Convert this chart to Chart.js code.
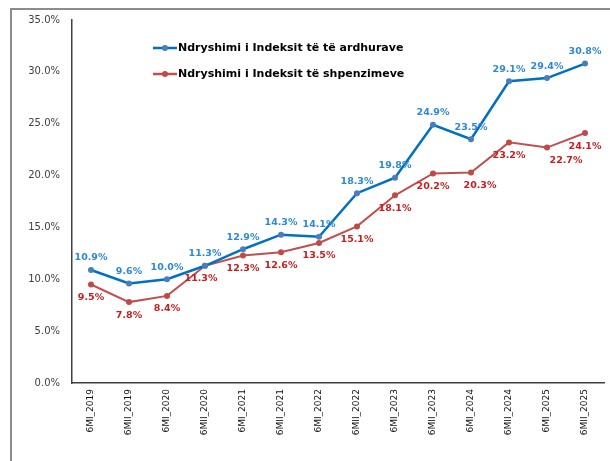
<!DOCTYPE html>
<html>
<head>
<meta charset="utf-8">
<script src="https://cdn.jsdelivr.net/npm/chart.js@4.4.1/dist/chart.umd.min.js"></script>
<style>
  html, body { margin: 0; padding: 0; background: #fff; overflow: hidden; }
  #frame { position: absolute; left: 10px; top: 8px; width: 640px; height: 480px;
           border-top: 2px solid #8c8c8c; border-left: 2px solid #8c8c8c; }
  #wrap { position: absolute; left: 0; top: 0; width: 610px; height: 461px; }
</style>
</head>
<body>
<div id="frame"></div>
<div id="wrap"><canvas id="myChart" width="610" height="461"></canvas></div>
<script>
let labels = ['6MI_2019', '6MII_2019', '6MI_2020', '6MII_2020', '6MI_2021', '6MII_2021', '6MI_2022',
              '6MII_2022', '6MI_2023', '6MII_2023', '6MI_2024', '6MII_2024', '6MI_2025', '6MII_2025'];
let incomeIdx = [10.9, 9.6, 10.0, 11.3, 12.9, 14.3, 14.1, 18.3, 19.8, 24.9, 23.5, 29.1, 29.4, 30.8];
let spendIdx = [9.5, 7.8, 8.4, 11.3, 12.3, 12.6, 13.5, 15.1, 18.1, 20.2, 20.3, 23.2, 22.7, 24.1];
let seriesNames = ['Ndryshimi i Indeksit të të ardhurave', 'Ndryshimi i Indeksit të shpenzimeve'];

// a few labels sit a little sideways in the original
let redShift = { 3: -4, 10: 9, 12: 19 };

let pointLabels = {
    id: 'pointLabels',
    afterDatasetsDraw(chart) {
        let ctx = chart.ctx;
        ctx.save();
        ctx.font = 'bold 9.5px "DejaVu Sans"';
        ctx.textAlign = 'center';
        ctx.textBaseline = 'middle';
        chart.data.datasets.forEach((ds, di) => {
            let meta = chart.getDatasetMeta(di);
            meta.data.forEach((pt, i) => {
                let txt = ds.data[i].toFixed(1) + '%';
                if (di === 0) {
                    ctx.fillStyle = '#2F88D6';
                    ctx.fillText(txt, pt.x, pt.y - 12);
                } else {
                    ctx.fillStyle = '#C51F1F';
                    ctx.fillText(txt, pt.x + (redShift[i] || 0), pt.y + 13);
                }
            });
        });
        ctx.restore();
    }
};

let innerLegend = {
    id: 'innerLegend',
    afterDraw(chart) {
        let ctx = chart.ctx;
        ctx.save();
        chart.data.datasets.forEach((ds, di) => {
            let y = 48 + di * 26;
            ctx.strokeStyle = ds.borderColor;
            ctx.lineWidth = 2.5;
            ctx.beginPath();
            ctx.moveTo(153, y);
            ctx.lineTo(177, y);
            ctx.stroke();
            ctx.fillStyle = ds.pointBackgroundColor;
            ctx.beginPath();
            ctx.arc(165, y, 3, 0, Math.PI * 2);
            ctx.fill();
            ctx.fillStyle = '#000';
            ctx.font = 'bold 11px "DejaVu Sans"';
            ctx.textBaseline = 'middle';
            ctx.textAlign = 'left';
            ctx.fillText(ds.label, 178, y);
        });
        ctx.restore();
    }
};

let chart = new Chart(document.getElementById('myChart').getContext('2d'), {
    type: 'line',
    data: {
        labels: labels,
        datasets: [{
            label: seriesNames[0],
            data: incomeIdx,
            borderColor: '#0070C0',
            borderWidth: 2.5,
            pointBackgroundColor: '#4A7EBB',
            pointBorderWidth: 0,
            pointRadius: 3,
            tension: 0
        }, {
            label: seriesNames[1],
            data: spendIdx,
            borderColor: '#C0504D',
            borderWidth: 2,
            pointBackgroundColor: '#BE4B48',
            pointBorderWidth: 0,
            pointRadius: 3,
            tension: 0
        }]
    },
    options: {
        responsive: false,
        animation: false,
        layout: { padding: { left: 0, right: 6, top: 20, bottom: 0 } },
        plugins: {
            legend: { display: false },
            tooltip: { enabled: false }
        },
        scales: {
            x: {
                offset: true,
                grid: { display: false, drawTicks: false },
                border: { display: true, color: '#404040', width: 1.5 },
                ticks: {
                    minRotation: 90, maxRotation: 90, padding: 6, autoSkip: false,
                    color: '#111',
                    font: { family: 'DejaVu Sans', size: 9 }
                },
                afterFit(scale) { scale.height = 78; }
            },
            y: {
                min: 0, max: 35,
                grid: { display: false, drawTicks: false },
                border: { display: true, color: '#404040', width: 1.5 },
                ticks: {
                    stepSize: 5, padding: 12, color: '#404040',
                    font: { family: 'DejaVu Sans', size: 10 },
                    callback: v => v.toFixed(1) + '%'
                },
                afterFit(scale) { scale.width = 72; }
            }
        }
    },
    plugins: [pointLabels, innerLegend]
});
</script>
</body>
</html>
